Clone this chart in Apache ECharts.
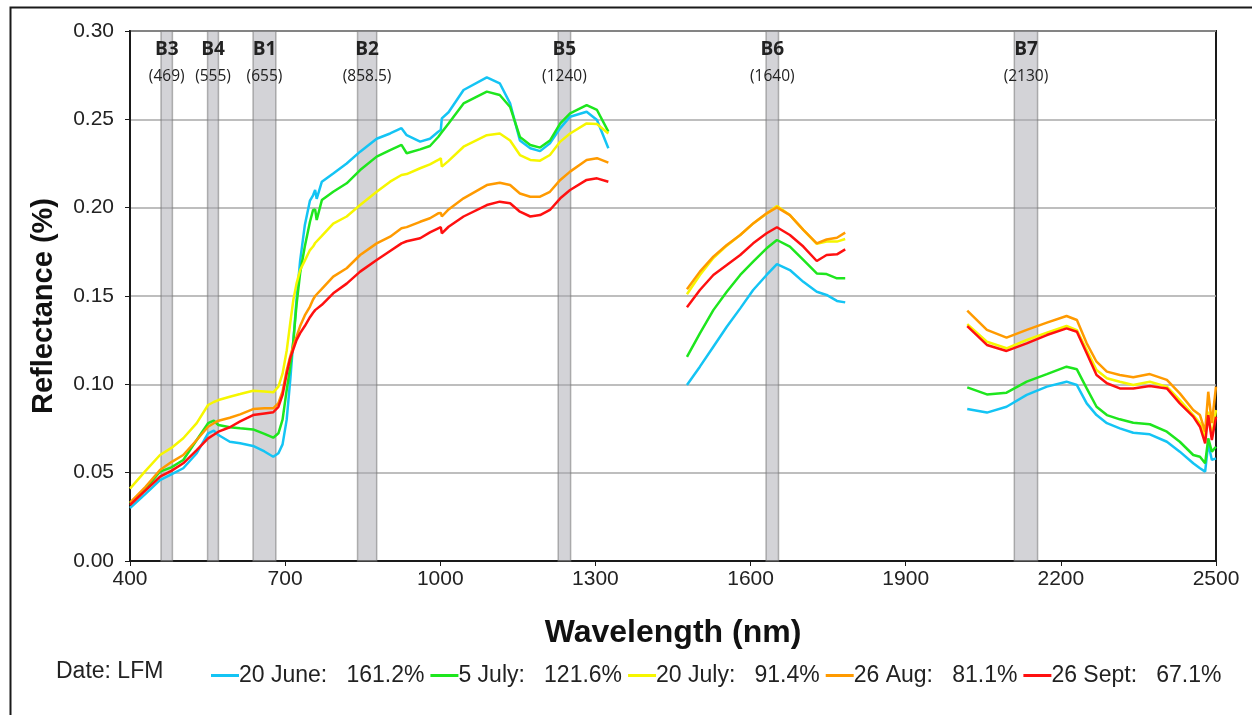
<!DOCTYPE html>
<html>
<head>
<meta charset="utf-8">
<script src="https://cdn.jsdelivr.net/npm/echarts@6/dist/echarts.min.js"></script>
<style>html,body{margin:0;padding:0;background:#fff;}#c{width:1252px;height:715px;}</style>
</head>
<body>
<div id="c"></div>
<script>
// ---- Data ----
const wl1 = [400,430,458,480,503,529,551,562,571,593,613,638,660,677,687,695,703,710,716,722,729,738,748,754,758,761,771,793,819,845,877,903,925,935,961,980,996,1001,1003,1016,1045,1090,1115,1135,1154,1174,1193,1212,1232,1251,1283,1303,1325];
const wl2 = [1477,1502,1528,1554,1580,1605,1631,1651,1676,1702,1728,1747,1767,1783];
const wl3 = [2019,2057,2095,2134,2173,2211,2231,2250,2269,2289,2314,2340,2372,2405,2430,2456,2469,2479,2485,2492,2500];

const june20_1 = [0.030,0.038,0.0458,0.049,0.0525,0.061,0.0723,0.0738,0.0713,0.0675,0.0666,0.0651,0.062,0.059,0.061,0.066,0.080,0.103,0.125,0.148,0.170,0.190,0.204,0.207,0.210,0.205,0.2147,0.2194,0.225,0.2317,0.239,0.242,0.245,0.241,0.2374,0.239,0.243,0.244,0.2505,0.254,0.2666,0.2738,0.2704,0.259,0.238,0.2336,0.232,0.2364,0.245,0.2515,0.2543,0.2496,0.2336];
const july5_1 = [0.0326,0.041,0.0506,0.053,0.0572,0.0685,0.078,0.0794,0.077,0.0757,0.0751,0.0745,0.072,0.0698,0.0723,0.080,0.0968,0.110,0.125,0.145,0.163,0.178,0.192,0.1987,0.199,0.193,0.2043,0.209,0.2138,0.2213,0.2289,0.2326,0.2355,0.2308,0.233,0.2349,0.240,0.242,0.242,0.2477,0.259,0.2657,0.2638,0.257,0.240,0.2355,0.234,0.238,0.2477,0.2534,0.258,0.2553,0.243];
const july20_1 = [0.041,0.051,0.060,0.064,0.0695,0.078,0.0883,0.090,0.0911,0.093,0.0945,0.0964,0.096,0.0955,0.0987,0.106,0.119,0.135,0.148,0.157,0.1647,0.170,0.176,0.178,0.180,0.179,0.184,0.191,0.195,0.2015,0.209,0.2147,0.2185,0.219,0.2223,0.2245,0.227,0.228,0.2232,0.2265,0.2345,0.241,0.242,0.238,0.2298,0.227,0.2266,0.2298,0.2374,0.242,0.2477,0.2474,0.242];
const aug26_1 = [0.033,0.042,0.0515,0.056,0.060,0.0685,0.076,0.078,0.0794,0.0811,0.083,0.086,0.0865,0.0864,0.0893,0.096,0.108,0.116,0.122,0.127,0.133,0.139,0.144,0.148,0.150,0.1505,0.154,0.161,0.1657,0.1732,0.1798,0.1836,0.1883,0.189,0.192,0.194,0.1968,0.197,0.195,0.199,0.2053,0.2128,0.2141,0.2128,0.208,0.2062,0.2062,0.209,0.2157,0.2204,0.227,0.228,0.2255];
const sept26_1 = [0.0317,0.040,0.0477,0.051,0.0553,0.0628,0.0694,0.0715,0.0732,0.0757,0.079,0.0826,0.0835,0.0842,0.0873,0.094,0.106,0.115,0.120,0.125,0.129,0.133,0.138,0.1405,0.142,0.141,0.145,0.1515,0.157,0.1638,0.1704,0.1755,0.1798,0.181,0.1827,0.186,0.1883,0.189,0.1855,0.1892,0.195,0.2015,0.2034,0.2025,0.1977,0.195,0.1958,0.1987,0.2053,0.21,0.2157,0.2166,0.2147];

const june20_2 = [0.0996,0.110,0.1213,0.1326,0.143,0.1534,0.1619,0.1681,0.1647,0.158,0.1524,0.1506,0.1472,0.1464];
const july5_2 = [0.1156,0.1289,0.142,0.1524,0.1619,0.1694,0.177,0.1817,0.1779,0.1704,0.1628,0.1624,0.160,0.160];
const july20_2 = [0.151,0.1619,0.1715,0.1785,0.1845,0.191,0.1965,0.201,0.1958,0.1874,0.1795,0.1808,0.1808,0.1823];
const aug26_2 = [0.1538,0.1638,0.1723,0.1789,0.1845,0.1911,0.1968,0.2002,0.1958,0.1874,0.1798,0.182,0.183,0.1859];
const sept26_2 = [0.1436,0.1534,0.1619,0.1675,0.1732,0.1798,0.1855,0.1889,0.1845,0.178,0.1698,0.1732,0.1736,0.1764];

const june20_3 = [0.086,0.084,0.0873,0.094,0.0987,0.1015,0.0996,0.0892,0.0826,0.078,0.0751,0.0726,0.0717,0.0675,0.0619,0.0553,0.0525,0.0506,0.0666,0.0572,0.0581];
const july5_3 = [0.0983,0.0943,0.0953,0.1015,0.1058,0.110,0.1085,0.0977,0.0873,0.0826,0.0802,0.0783,0.0774,0.0732,0.0675,0.060,0.059,0.0553,0.0694,0.0619,0.0647];
const july20_3 = [0.1341,0.1241,0.1204,0.1251,0.1292,0.133,0.1307,0.1194,0.1081,0.1034,0.1015,0.0996,0.1015,0.0987,0.0911,0.0826,0.078,0.0704,0.0845,0.0704,0.0855];
const aug26_3 = [0.1417,0.1308,0.1264,0.1308,0.1349,0.1387,0.1364,0.1232,0.1128,0.1072,0.1053,0.104,0.1058,0.1025,0.0949,0.0855,0.0826,0.0732,0.0958,0.078,0.0987];
const sept26_3 = [0.133,0.1223,0.1189,0.1232,0.1279,0.1317,0.1298,0.1176,0.1053,0.1006,0.0977,0.0977,0.099,0.0977,0.0892,0.0817,0.076,0.0666,0.0826,0.0685,0.0817];

const seriesNames = ['20 June:   161.2%','5 July:   121.6%','20 July:   91.4%','26 Aug:   81.1%','26 Sept:   67.1%'];
const seriesColors = ['#14c4f4','#1ee61e','#f6f600','#ff9a00','#ff1010'];

const bandNames = ['B3','B4','B1','B2','B5','B6','B7'];
const bandCenters = ['469','555','655','858.5','1240','1640','2130'];
const bandLo = [460,550,638,840,1228,1630,2110];
const bandHi = [482,571,682,877,1252,1654,2155];

const xTicksMin = 400, xTicksMax = 2500, xTickStep = 300;
const yMin = 0, yMax = 0.30, yStep = 0.05;

// ---- Build ----
function seg(w, v){ return w.map((x,i)=>[x, v[i]]); }
function full(a,b,c){ return seg(wl1,a).concat([[1400,'-']], seg(wl2,b), [[1900,'-']], seg(wl3,c)); }
const allData = [
  full(june20_1, june20_2, june20_3),
  full(july5_1, july5_2, july5_3),
  full(july20_1, july20_2, july20_3),
  full(aug26_1, aug26_2, aug26_3),
  full(sept26_1, sept26_2, sept26_3)
];

const series = allData.map((d,i)=>({
  name: seriesNames[i], type:'line', data:d, showSymbol:false, connectNulls:false,
  lineStyle:{color:seriesColors[i], width:2.5}, itemStyle:{color:seriesColors[i]}, z:2, silent:true
}));

series.push({
  name:'bands', type:'line', data:[], z:5, silent:true,
  markArea:{
    silent:true,
    itemStyle:{color:'rgba(168,168,176,0.5)', borderColor:'rgba(120,120,120,0.55)', borderWidth:1.5},
    label:{
      show:true, position:'insideTop', distance:6,
      formatter:p=>'{b|'+p.name+'}\n{c|('+p.data.center+')}',
      rich:{
        b:{fontFamily:'Open Sans', fontWeight:'bold', fontSize:19, color:'#222', lineHeight:27},
        c:{fontFamily:'Open Sans', fontSize:15.5, color:'#222', lineHeight:26}
      }
    },
    data: bandNames.map((n,i)=>[{name:n, xAxis:bandLo[i], center:bandCenters[i]},{xAxis:bandHi[i]}])
  }
});

const chart = echarts.init(document.getElementById('c'));
chart.setOption({
  animation:false,
  backgroundColor:'#fff',
  grid:{left:130, right:36, top:31, bottom:154, show:true, borderColor:'#1a1a1a', borderWidth:2, backgroundColor:'transparent'},
  xAxis:{
    type:'value', min:xTicksMin, max:xTicksMax, interval:xTickStep,
    name:'Wavelength (nm)', nameLocation:'middle', nameGap:56,
    nameTextStyle:{fontFamily:'Liberation Sans', fontWeight:'bold', fontSize:32, color:'#111'},
    axisLine:{show:true, lineStyle:{color:'#1a1a1a', width:2}},
    axisTick:{show:true, length:5, lineStyle:{color:'#1a1a1a'}},
    axisLabel:{fontFamily:'Liberation Sans', fontSize:21, color:'#222', margin:8, formatter:v=>String(v)},
    splitLine:{show:false}
  },
  yAxis:{
    type:'value', min:yMin, max:yMax, interval:yStep,
    name:'Reflectance (%)', nameLocation:'middle', nameGap:72, nameRotate:90,
    nameTextStyle:{fontFamily:'Liberation Sans', fontWeight:'bold', fontSize:29, color:'#111', padding:[0,20,0,0]},
    axisLine:{show:true, lineStyle:{color:'#1a1a1a', width:2}},
    axisTick:{show:true, length:5, lineStyle:{color:'#1a1a1a'}},
    axisLabel:{fontFamily:'Liberation Sans', fontSize:21, color:'#222', margin:16, formatter:v=>v.toFixed(2)},
    splitLine:{show:true, lineStyle:{color:'#a8a8a8', width:1.5}}
  },
  legend:{
    data:seriesNames, left:206, top:659, itemGap:6, itemWidth:28, itemHeight:3, icon:'rect',
    textStyle:{fontFamily:'Liberation Sans', fontSize:23, color:'#222', padding:[0,0,0,-5]}
  },
  graphic:[
    {type:'rect', left:8, top:5, shape:{width:1250, height:720}, style:{fill:null, stroke:'#1a1a1a', lineWidth:2}, silent:true},
    {type:'text', left:56, top:660, style:{text:'Date: LFM', font:'23px "Liberation Sans"', fill:'#222'}}
  ],
  series:series
});
</script>
</body>
</html>
